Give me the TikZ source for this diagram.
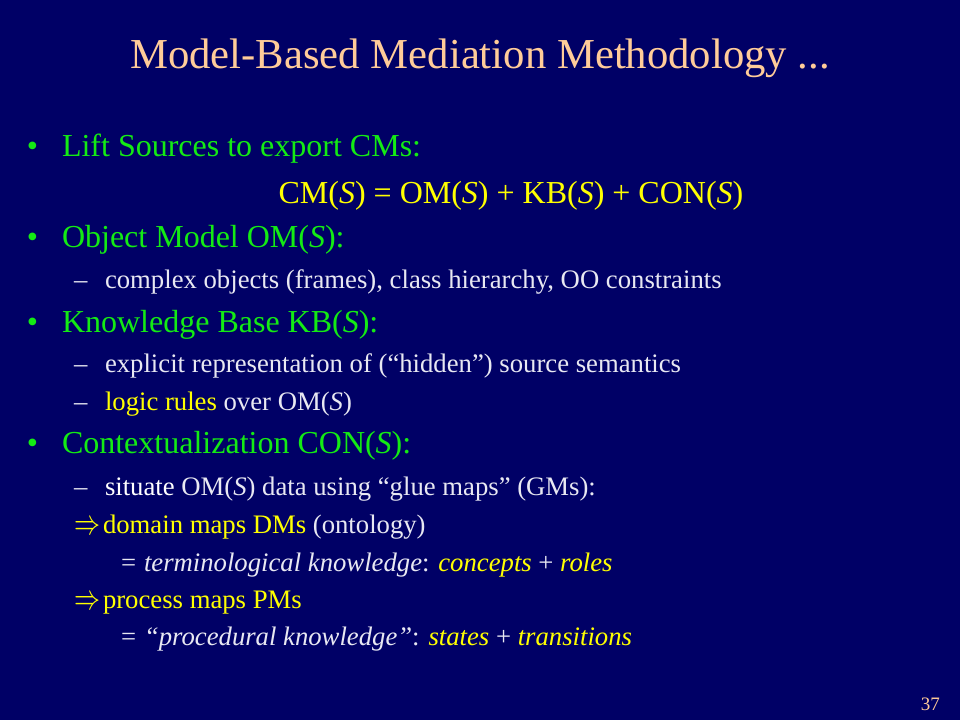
\documentclass[tikz,border=0pt]{standalone}
\usepackage{fontspec}
\setmainfont{Liberation Serif}
\definecolor{bg}{RGB}{0,0,102}
\definecolor{titlec}{RGB}{255,204,153}
\definecolor{greenc}{RGB}{20,235,20}
\definecolor{yel}{RGB}{255,255,0}
\definecolor{wht}{RGB}{232,232,242}
\newcommand{\bigimplies}{\resizebox{26pt}{13pt}{$\Rightarrow$}}
\tikzset{
  base/.style={anchor=base west, inner sep=0pt, outer sep=0pt},
  titletxt/.style={anchor=base, inner sep=0pt, text=titlec, font=\fontsize{42.7}{48}\selectfont},
  bul/.style={base, text=greenc, font=\fontsize{32}{36}\selectfont},
  eqn/.style={anchor=base, inner sep=0pt, text=yel, font=\fontsize{32}{36}\selectfont},
  sub/.style={base, text=wht, font=\fontsize{26.7}{30}\selectfont},
  arrowsym/.style={base, text=yel, yshift=-1pt},
  pagenum/.style={anchor=base east, inner sep=0pt, text=titlec, font=\fontsize{19}{22}\selectfont}
}
\begin{document}
\begin{tikzpicture}[x=1pt,y=-1pt]
\fill[bg] (0,0) rectangle (960,720);
\useasboundingbox (0,0) rectangle (960,720);
\node[titletxt] (title) at (480,68) {Model-Based Mediation Methodology ...};
% bullet 1
\node[bul] (b1dot) at (27,156) {•};
\node[bul] (b1) at (62,156) {Lift Sources to export CMs:};
\node[eqn] (cm) at (511,203) {CM(\textit{S}) = OM(\textit{S}) + KB(\textit{S}) + CON(\textit{S})};
% bullet 2
\node[bul] (b2dot) at (27,247) {•};
\node[bul] (b2) at (62,247) {Object Model OM(\textit{S}):};
\node[sub] (d1) at (74,288) {–};
\node[sub] (s1) at (105,288) {complex objects (frames), class hierarchy, OO constraints};
% bullet 3
\node[bul] (b3dot) at (27,332) {•};
\node[bul] (b3) at (62,332) {Knowledge Base KB(\textit{S}):};
\node[sub] (d2) at (74,372) {–};
\node[sub] (s2) at (105,372) {explicit representation of (“hidden”) source semantics};
\node[sub] (d3) at (74,410) {–};
\node[sub] (s3) at (105,410) {\textcolor{yel}{logic rules} over OM(\textit{S})};
% bullet 4
\node[bul] (b4dot) at (27,453) {•};
\node[bul] (b4) at (62,453) {Contextualization CON(\textit{S}):};
\node[sub] (d4) at (74,495) {–};
\node[sub] (s4) at (105,495) {\textcolor{white}{situate} OM(\textit{S}) data using “glue maps” (GMs):};
\node[arrowsym] (a1) at (74,533) {\bigimplies};
\node[sub] (s5) at (103,533) {\textcolor{yel}{domain maps DMs} (ontology)};
\node[sub] (e1) at (121,571) {=};
\node[sub] (s6) at (144,571) {\textit{terminological knowledge}: \textcolor{yel}{\textit{concepts}} + \textcolor{yel}{\textit{roles}}};
\node[arrowsym] (a2) at (74,608) {\bigimplies};
\node[sub] (s7) at (103,608) {\textcolor{yel}{process maps PMs}};
\node[sub] (e2) at (121,645) {=};
\node[sub] (s8) at (144,645) {\textit{“procedural knowledge”}: \textcolor{yel}{\textit{states}} + \textcolor{yel}{\textit{transitions}}};
\node[pagenum] (pg) at (940,710) {37};
\end{tikzpicture}
\end{document}
